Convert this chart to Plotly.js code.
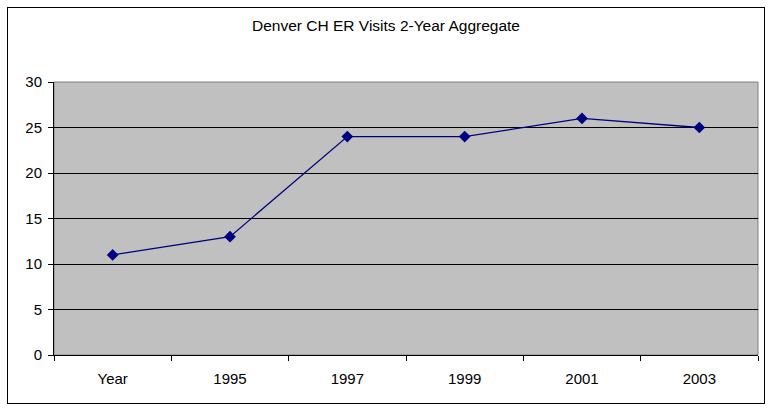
<!DOCTYPE html>
<html>
<head>
<meta charset="utf-8">
<script src="https://cdn.plot.ly/plotly-3.0.1.min.js"></script>
<style>
html,body{margin:0;padding:0;background:#fff;}
#wrap{position:relative;width:772px;height:411px;}
#chart{width:772px;height:411px;}
#frame{position:absolute;left:7px;top:7px;width:756px;height:395px;border:1px solid #000;pointer-events:none;}
</style>
</head>
<body>
<div id="wrap"><div id="chart"></div><div id="frame"></div></div>
<script>
const categories = ["Year", "1995", "1997", "1999", "2001", "2003"];
const visits = [11, 13, 24, 24, 26, 25];
const yTicks = [0, 5, 10, 15, 20, 25, 30];
const chartTitle = "Denver CH ER Visits 2-Year Aggregate";

const trace = {
  x: categories,
  y: visits,
  type: "scatter",
  mode: "lines+markers",
  line: {color: "#000080", width: 1.3},
  marker: {symbol: "diamond", size: 9, color: "#000080"},
  hoverinfo: "x+y"
};

const layout = {
  width: 772,
  height: 411,
  margin: {l: 54, r: 14, t: 82, b: 56},
  paper_bgcolor: "#ffffff",
  plot_bgcolor: "#c0c0c0",
  font: {family: "Liberation Sans, Arial, sans-serif", size: 15, color: "#000"},
  showlegend: false,
  title: {
    text: chartTitle,
    font: {family: "Liberation Sans, Arial, sans-serif", size: 15.5, color: "#000"},
    x: 0.5, xanchor: "center",
    y: 1 - 26/411, yanchor: "middle", yref: "container"
  },
  xaxis: {
    type: "category",
    range: [-0.5, 5.5],
    tickson: "boundaries",
    ticks: "outside",
    ticklen: 5,
    tickcolor: "#000",
    showgrid: false,
    showline: true,
    linecolor: "#000",
    linewidth: 1,
    mirror: false,
    ticklabelstandoff: 10,
    zeroline: false
  },
  yaxis: {
    range: [0, 30],
    tickvals: yTicks,
    ticks: "outside",
    ticklen: 5,
    tickcolor: "#000",
    showgrid: true,
    gridcolor: "#000",
    gridwidth: 1,
    showline: true,
    linecolor: "#000",
    linewidth: 1,
    ticklabelstandoff: 3,
    zeroline: false
  },
  shapes: [
    {type: "rect", xref: "paper", yref: "paper", x0: 0, x1: 1, y0: 0, y1: 1,
     line: {color: "#808080", width: 1}, fillcolor: "rgba(0,0,0,0)", layer: "below"}
  ]
};

Plotly.newPlot("chart", [trace], layout, {displayModeBar: false, staticPlot: true});
</script>
</body>
</html>
